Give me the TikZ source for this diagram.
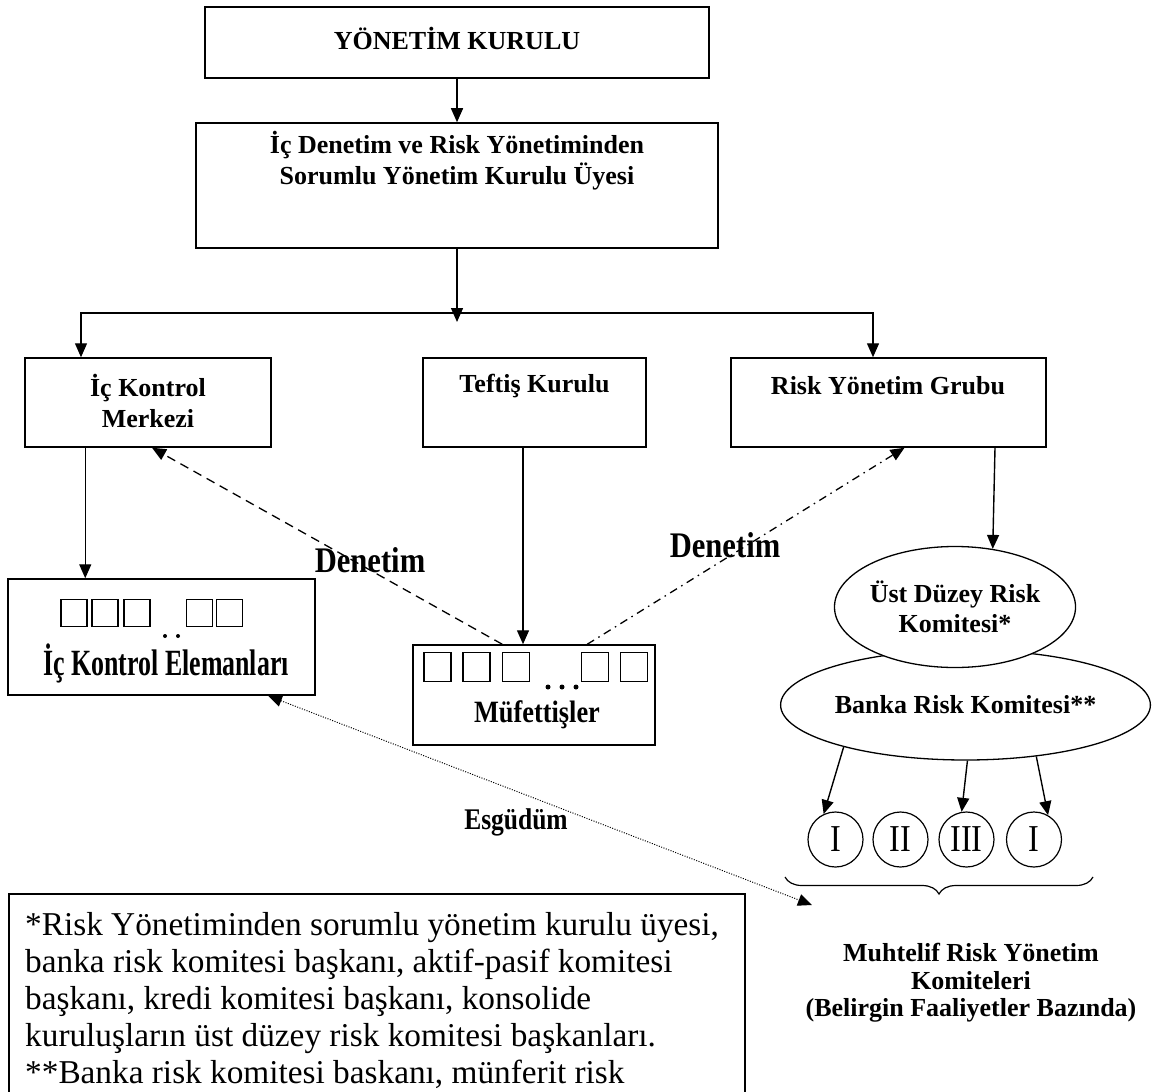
\documentclass[tikz,border=0pt]{standalone}
\usepackage{fontspec}
\setmainfont{Liberation Serif}
\newfontfamily\tallfont{Liberation Serif}[FakeStretch=0.70]
\newfontfamily\semitall{Liberation Serif}[FakeStretch=0.85]
\usetikzlibrary{arrows.meta,positioning,shapes.geometric,decorations.pathreplacing,calc}

\begin{document}
\begin{tikzpicture}[x=1pt,y=-1pt,
  box/.style={draw,line width=1.5pt,inner sep=0pt},
  lbl/.style={font=\fontsize{26}{31}\selectfont\bfseries,align=center,inner sep=0pt},
  arr/.style={-{Triangle[length=14pt,width=12pt]},line width=1.4pt},
  arrtwo/.style={{Triangle[length=14pt,width=12pt]}-{Triangle[length=14pt,width=12pt]},line width=1.4pt},
  sq/.style={draw,line width=1.2pt,minimum width=26pt,minimum height=27pt,inner sep=0pt},
  komite/.style={draw,ellipse,line width=1.3pt,inner sep=0pt,align=center,font=\fontsize{26}{30}\selectfont\bfseries},
  daire/.style={draw,circle,line width=1.2pt,minimum size=55pt,inner sep=0pt,font=\semitall\fontsize{38}{38}\selectfont},
  denetim/.style={font=\semitall\fontsize{36}{36}\selectfont\bfseries,inner sep=0pt}]
  \useasboundingbox (0,0) rectangle (1155,1091);

  % ust kademe
  \node[box,line width=2.6pt,minimum width=504pt,minimum height=71pt] (yk) at (457,42.5) {};
  \node[lbl] (yk-t) at (457,38) {YÖNETİM KURULU};
  \node[box,minimum width=522pt,minimum height=125pt] (uye) at (457,185.5) {};
  \node[lbl] (uye-t) at (457,161) {İç Denetim ve Risk Yönetiminden\\Sorumlu Yönetim Kurulu Üyesi};
  \node[box,minimum width=246pt,minimum height=89pt] (ikm) at (148,402.5) {};
  \node[lbl] (ikm-t) at (148,401) {İç Kontrol\\Merkezi};
  \node[box,minimum width=223pt,minimum height=89pt] (tk) at (534.5,402.5) {};
  \node[lbl] (tk-t) at (534.5,386) {Teftiş Kurulu};
  \node[box,minimum width=315pt,minimum height=89pt] (ryg) at (888.5,402.5) {};
  \node[lbl] (ryg-t) at (888,386) {Risk Yönetim Grubu};

  \coordinate (orta) at (457,322);
  \coordinate (sol) at (81,313);
  \coordinate (sag) at (873,313);
  \draw[arr] (yk.south) -- (uye.north);
  \draw[arr] (uye.south) -- (orta);
  \draw[arrtwo] (sol |- ikm.north) -- (sol) -- (sag) -- (sag |- ryg.north);

  % ic kontrol elemanlari
  \node[box,minimum width=307pt,minimum height=116pt] (ike) at (161.5,637) {};
  \foreach \x [count=\i] in {74,105,137,199.5,229.5}
    \node[sq] (ike-k\i) at (\x,613) {};
  \fill (165,636) circle (2pt) (178,636) circle (2pt);
  \node[font=\tallfont\fontsize{37}{40}\selectfont\bfseries,anchor=base,inner sep=0pt] (ike-t) at (166,675) {İç Kontrol Elemanları};
  \draw[arr] ([xshift=61pt]ikm.south west) -- ([xshift=78pt]ike.north west);

  % mufettisler
  \node[box,minimum width=242pt,minimum height=100pt] (muf) at (534,695) {};
  \foreach \x [count=\i] in {437.5,476.5,516,595,634}
    \node[sq,minimum width=27pt,minimum height=29pt] (muf-k\i) at (\x,667) {};
  \fill (548,687) circle (2.5pt) (562,687) circle (2.5pt) (576,687) circle (2.5pt);
  \node[font=\semitall\fontsize{31}{31}\selectfont\bfseries,anchor=base,inner sep=0pt] (muf-t) at (537,722) {Müfettişler};
  \draw[arr] ([xshift=-11.5pt]tk.south) -- ([xshift=-11pt]muf.north);

  \draw[arr,line width=1.3pt,dash pattern=on 9pt off 6pt] ([xshift=90pt]muf.north west) -- ([xshift=4pt]ikm.south);
  \draw[arr,line width=1.3pt,dash pattern=on 8pt off 5pt on 1.5pt off 5pt] ([xshift=175pt]muf.north west) -- ([xshift=16pt]ryg.south);
  \node[denetim] (den1) at (370,560) {Denetim};
  \node[denetim] (den2) at (725,545) {Denetim};

  % komiteler
  \node[komite,minimum width=315pt,minimum height=110pt] (brk) at (965.5,705) {Banka Risk Komitesi**};
  \node[komite,fill=white,minimum width=236pt,minimum height=121pt] (udr) at (955,607) {Üst Düzey Risk\\Komitesi*};
  \draw[arr] ([xshift=106.5pt]ryg.south) -- (udr.57);
  \foreach \x/\r [count=\i] in {835.5/I,900.5/II,966.5/III,1034/I}
    \node[daire] (c\i) at (\x,839.5) {\r};
  \draw[arr] (brk.199) -- (c1.115);
  \draw[arr] (brk.272) -- (c3.100);
  \draw[arr] (brk.-36) -- (c4.60);
  \coordinate (kb1) at (785,877);
  \coordinate (kb2) at (1093,877);
  \draw[line width=1.2pt,decorate,decoration={brace,mirror,amplitude=17pt}] (kb1) -- (kb2);
  \node[lbl,font=\fontsize{26}{27.5}\selectfont\bfseries] (muh) at (971,983) {Muhtelif Risk Yönetim\\Komiteleri\\(Belirgin Faaliyetler Bazında)};

  % esgudum
  \node[font=\semitall\fontsize{30}{30}\selectfont\bfseries,inner sep=0pt] (esg) at (516,822) {Esgüdüm};
  \coordinate (esg-uc) at (812,905);
  \draw[arrtwo,line width=1pt,dash pattern=on 1pt off 1.5pt] ([xshift=106.5pt]ike.south) -- (esg-uc);

  % dipnot
  \node[box,line width=1.8pt,minimum width=736pt,minimum height=300pt,anchor=north west] (dip) at (8,893) {};
  \node[anchor=north west,inner sep=0pt,align=left,font=\fontsize{33.3}{37}\selectfont] (dip-t) at (25,912)
    {*Risk Yönetiminden sorumlu yönetim kurulu üyesi,\\
     banka risk komitesi başkanı, aktif-pasif komitesi\\
     başkanı, kredi komitesi başkanı, konsolide\\
     kuruluşların üst düzey risk komitesi başkanları.\\
     **Banka risk komitesi baskanı, münferit risk};
\end{tikzpicture}
\end{document}
